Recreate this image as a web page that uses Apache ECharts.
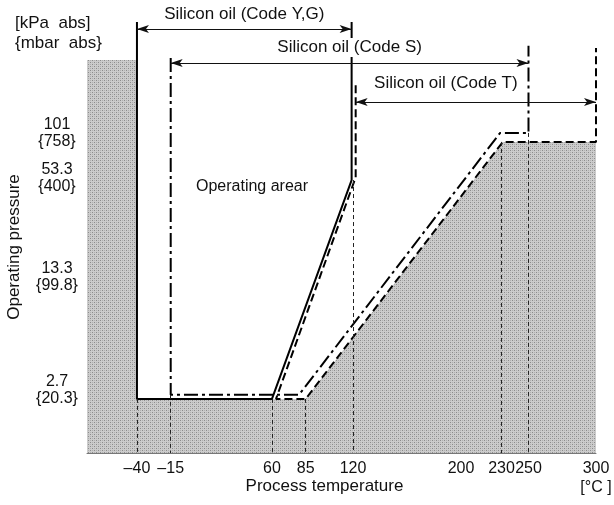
<!DOCTYPE html>
<html>
<head>
<meta charset="utf-8">
<script src="https://cdn.jsdelivr.net/npm/echarts@6/dist/echarts.min.js"></script>
<style>
html, body { margin: 0; padding: 0; background: #fff; }
#chart { width: 614px; height: 505px; }
</style>
</head>
<body>
<div id="chart"></div>
<script>
// axis range: temperature in degC, pressure in kPa abs (drawn on a log10 scale)
var xMin = -77, xMax = 300
var pMin = 1.11, pMax = 496

var tempTicks = [-40, -15, 60, 85, 120, 200, 230, 250, 300]
var kpaTicks = [2.7, 13.3, 53.3, 101]
var mbarTicks = ['20.3', '99.8', '400', '758']

// boundary lines, [temp, kPa]
var codeYG = [[-40, 482], [-40, 2.38], [60, 2.38], [119, 52], [119, 482]]
var codeS = [[-15, 290], [-15, 2.52], [80, 2.52], [229, 101], [250, 101], [250, 345]]
var codeT = [[122, 198], [122, 54], [63, 2.38], [85, 2.38], [231, 89], [300, 89], [300, 334]]
var nonOperating = [[-77, 282], [-40, 282], [-40, 2.38], [85, 2.38], [231, 89], [300, 89]]

// dimension arrows, [from, to, kPa]
var arrowYG = [-40, 119, 437]
var arrowS = [-15, 250, 271]
var arrowT = [122, 300, 156]

// dashed guides down to the axis, [temp, top kPa]
var guides = [[-40, 2.38], [-15, 2.52], [60, 2.38], [85, 2.38], [120, 52], [230, 89], [250, 101]]

function lg(p) {
	return Math.log10(p)
}
function toXY(list) {
	return list.map(function (d) { return [d[0], lg(d[1])] })
}

// dotted screen texture for the non-operating area
var pat = document.createElement('canvas')
pat.width = 4
pat.height = 4
var c = pat.getContext('2d')
c.fillStyle = '#cccccc'
c.fillRect(0, 0, 4, 4)
c.fillStyle = '#8c8c8c'
c.fillRect(0, 0, 1, 1)
c.fillRect(2, 2, 1, 1)
c.fillStyle = '#b0b0b0'
c.fillRect(2, 0, 1, 1)
c.fillRect(0, 2, 1, 1)

var font = '"Liberation Sans", Arial, sans-serif'

function arrow(a, name, dist, dx) {
	var lab = { distance: dist, offset: [dx, 0] }
	return [
		{ coord: [a[0], lg(a[2])], name: name, label: lab },
		{ coord: [a[1], lg(a[2])], label: lab }
	]
}

var option = {
	animation: false,
	textStyle: { fontFamily: font },
	grid: { left: 87, right: 18, top: 20, bottom: 52, containLabel: false, outerBoundsMode: 'none' },
	xAxis: {
		type: 'value',
		min: xMin,
		max: xMax,
		splitLine: { show: false },
		axisLine: { show: true, onZero: false, lineStyle: { color: '#777', width: 1 } },
		axisTick: { show: true, customValues: [200], inside: true, length: 8, lineStyle: { color: '#333' } },
		axisLabel: {
			customValues: tempTicks,
			margin: 6,
			fontSize: 16,
			lineHeight: 19,
			color: '#111',
			formatter: function (v) {
				if (v < 0) return '\u2013' + Math.abs(v)
				if (v === 300) return '300\n[\u00b0C ]'
				return String(v)
			}
		},
		name: 'Process temperature',
		nameLocation: 'middle',
		nameGap: 25,
		nameMoveOverlap: false,
		nameTextStyle: { fontSize: 17, color: '#111', padding: [0, 34, 0, 0] }
	},
	yAxis: {
		type: 'value',
		min: lg(pMin),
		max: lg(pMax),
		splitLine: { show: false },
		axisLine: { show: false, onZero: false },
		axisTick: { show: true, customValues: kpaTicks.map(lg), inside: true, length: 4, lineStyle: { color: '#444' } },
		axisLabel: {
			customValues: kpaTicks.map(lg),
			align: 'center',
			margin: 30,
			fontSize: 16,
			lineHeight: 17,
			color: '#111',
			formatter: function (v) {
				for (var i = 0; i < kpaTicks.length; i++) {
					if (Math.abs(lg(kpaTicks[i]) - v) < 1e-6) {
						return kpaTicks[i] + '\n{' + mbarTicks[i] + '}'
					}
				}
				return ''
			}
		},
		name: 'Operating pressure',
		nameLocation: 'middle',
		nameGap: 64,
		nameMoveOverlap: false,
		nameTextStyle: { fontSize: 17, color: '#111', padding: [0, 21, 0, 0] }
	},
	graphic: [
		{
			type: 'text', left: 15, top: 13,
			style: { text: '[kPa  abs]\n{mbar  abs}', fontSize: 17, lineHeight: 20, fill: '#111', fontFamily: font }
		},
		{
			type: 'text', left: 196, top: 179,
			style: { text: 'Operating arear', fontSize: 16, fill: '#111', fontFamily: font }
		},
		{
			type: 'text', left: 371, top: 359,
			style: { text: 'Non-operating\narea', fontSize: 16, lineHeight: 17, fill: '#222', fontFamily: font }
		}
	],
	series: [
		{
			name: 'non-operating',
			type: 'line',
			data: toXY(nonOperating),
			symbol: 'none',
			silent: true,
			z: 1,
			lineStyle: { width: 0 },
			areaStyle: { color: { image: pat, repeat: 'repeat' }, opacity: 1, origin: 'start' },
			markLine: {
				silent: true,
				symbol: 'none',
				label: { show: false },
				lineStyle: { color: '#222', width: 1, type: [4, 3] },
				data: guides.map(function (g) {
					return [{ coord: [g[0], lg(g[1])] }, { coord: [g[0], lg(pMin)] }]
				})
			}
		},
		{
			name: 'Code Y,G',
			type: 'line',
			data: toXY(codeYG),
			symbol: 'none',
			z: 3,
			lineStyle: { color: '#000', width: 2 }
		},
		{
			name: 'Code S',
			type: 'line',
			data: toXY(codeS),
			symbol: 'none',
			z: 3,
			lineStyle: { color: '#000', width: 2, type: [14, 4, 3, 4] }
		},
		{
			name: 'Code T',
			type: 'line',
			data: toXY(codeT),
			symbol: 'none',
			z: 3,
			lineStyle: { color: '#000', width: 2, type: [8, 4] }
		},
		{
			name: 'ranges',
			type: 'line',
			data: [],
			z: 5,
			markLine: {
				silent: true,
				symbol: ['arrow', 'arrow'],
				symbolSize: [6, 12],
				lineStyle: { color: '#111', width: 1, type: 'solid' },
				label: {
					show: true,
					position: 'insideMiddleTop',
					formatter: '{b}',
					fontSize: 17,
					color: '#111',
					backgroundColor: '#fff',
					padding: [1, 3]
				},
				data: [
					arrow(arrowYG, 'Silicon oil (Code Y,G)', 5, 0),
					arrow(arrowS, 'Silicon oil (Code S)', 6, 0),
					arrow(arrowT, 'Silicon oil (Code T)', 9, -30)
				]
			}
		}
	]
}

var chart = echarts.init(document.getElementById('chart'))
chart.setOption(option)
</script>
</body>
</html>
